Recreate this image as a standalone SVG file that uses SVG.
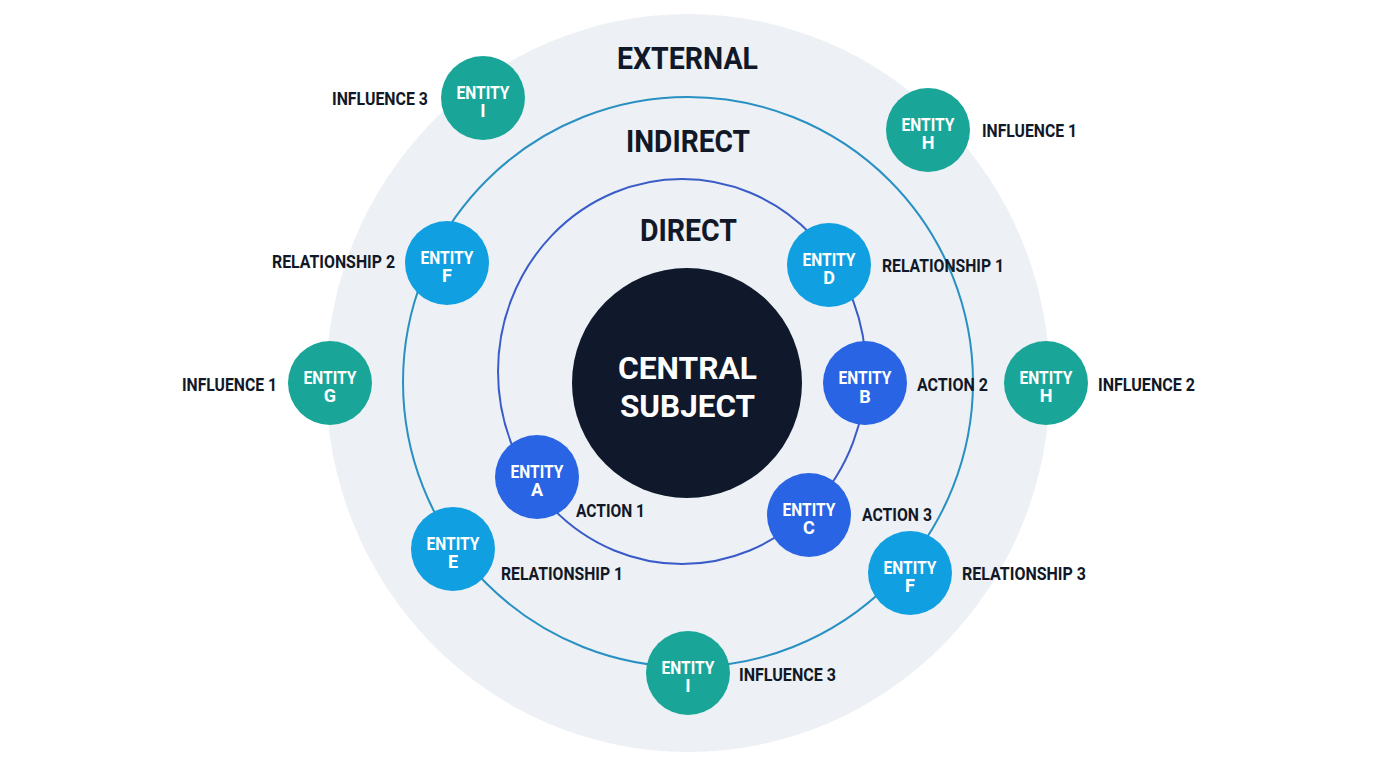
<svg xmlns="http://www.w3.org/2000/svg" width="1376" height="768" viewBox="0 0 1376 768">
  <style>
    text { font-family: Roboto, "Liberation Sans", sans-serif; font-weight: 700; }
    .hdr { font-size: 32px; fill: #111827; text-anchor: middle; }
    .lbl { font-size: 18px; fill: #111827; }
    .nt { font-size: 18px; fill: #ffffff; text-anchor: middle; }
    .ct { font-size: 32px; fill: #ffffff; text-anchor: middle; }
    .teal { fill: #19a698; }
    .sky { fill: #109fe0; }
    .blue { fill: #2864e3; }
    .ring-ind { fill: none; stroke: #2890c2; stroke-width: 2; }
    .ring-dir { fill: none; stroke: #3a5cc9; stroke-width: 2; }
  </style>
  <rect width="1376" height="768" fill="#ffffff"/>
  <ellipse cx="688" cy="383" rx="362" ry="369" fill="#edf0f4"/>

  <g id="connectors">
    <circle class="ring-ind" cx="688" cy="382" r="285"/>
    <ellipse class="ring-dir" cx="682" cy="371.5" rx="184" ry="192.5"/>
  </g>

  <g id="layer-labels">
    <text class="hdr" x="687.5" y="69" textLength="141" lengthAdjust="spacingAndGlyphs">EXTERNAL</text>
    <text class="hdr" x="688" y="152" textLength="124" lengthAdjust="spacingAndGlyphs">INDIRECT</text>
    <text class="hdr" x="688.5" y="241" textLength="97" lengthAdjust="spacingAndGlyphs">DIRECT</text>
  </g>

  <g id="central">
    <circle cx="687" cy="383" r="115" fill="#0f192b"/>
    <text class="ct" x="687.5" y="379" textLength="139" lengthAdjust="spacingAndGlyphs">CENTRAL</text>
    <text class="ct" x="687.5" y="417" textLength="135" lengthAdjust="spacingAndGlyphs">SUBJECT</text>
  </g>

  <g id="entity-i-top">
    <circle class="teal" cx="483" cy="98" r="42"/>
    <text class="nt" x="483" y="98.5" textLength="53" lengthAdjust="spacingAndGlyphs">ENTITY</text>
    <text class="nt" x="483" y="117">I</text>
    <text class="lbl" x="332" y="105" textLength="96" lengthAdjust="spacingAndGlyphs">INFLUENCE 3</text>
  </g>

  <g id="entity-h-top">
    <circle class="teal" cx="928" cy="130" r="42"/>
    <text class="nt" x="928" y="130.5" textLength="53" lengthAdjust="spacingAndGlyphs">ENTITY</text>
    <text class="nt" x="928" y="149">H</text>
    <text class="lbl" x="982" y="137" textLength="95" lengthAdjust="spacingAndGlyphs">INFLUENCE 1</text>
  </g>

  <g id="entity-f-left">
    <circle class="sky" cx="447" cy="263" r="42"/>
    <text class="nt" x="447" y="263.5" textLength="53" lengthAdjust="spacingAndGlyphs">ENTITY</text>
    <text class="nt" x="447" y="282">F</text>
    <text class="lbl" x="272" y="268" textLength="123" lengthAdjust="spacingAndGlyphs">RELATIONSHIP 2</text>
  </g>

  <g id="entity-d">
    <circle class="sky" cx="829" cy="265" r="42"/>
    <text class="nt" x="829" y="265.5" textLength="53" lengthAdjust="spacingAndGlyphs">ENTITY</text>
    <text class="nt" x="829" y="284">D</text>
    <text class="lbl" x="882" y="272" textLength="122" lengthAdjust="spacingAndGlyphs">RELATIONSHIP 1</text>
  </g>

  <g id="entity-g">
    <circle class="teal" cx="330" cy="383" r="42"/>
    <text class="nt" x="330" y="383.5" textLength="53" lengthAdjust="spacingAndGlyphs">ENTITY</text>
    <text class="nt" x="330" y="402">G</text>
    <text class="lbl" x="182" y="391" textLength="95" lengthAdjust="spacingAndGlyphs">INFLUENCE 1</text>
  </g>

  <g id="entity-b">
    <circle class="blue" cx="865" cy="383" r="42"/>
    <text class="nt" x="865" y="384" textLength="53" lengthAdjust="spacingAndGlyphs">ENTITY</text>
    <text class="nt" x="865" y="403">B</text>
    <text class="lbl" x="917" y="391" textLength="71" lengthAdjust="spacingAndGlyphs">ACTION 2</text>
  </g>

  <g id="entity-h-right">
    <circle class="teal" cx="1046" cy="383" r="42"/>
    <text class="nt" x="1046" y="383.5" textLength="53" lengthAdjust="spacingAndGlyphs">ENTITY</text>
    <text class="nt" x="1046" y="402">H</text>
    <text class="lbl" x="1098" y="391" textLength="97" lengthAdjust="spacingAndGlyphs">INFLUENCE 2</text>
  </g>

  <g id="entity-a">
    <circle class="blue" cx="537" cy="477" r="42"/>
    <text class="nt" x="537" y="477.5" textLength="53" lengthAdjust="spacingAndGlyphs">ENTITY</text>
    <text class="nt" x="537" y="496">A</text>
    <text class="lbl" x="576" y="517" textLength="69" lengthAdjust="spacingAndGlyphs">ACTION 1</text>
  </g>

  <g id="entity-c">
    <circle class="blue" cx="809" cy="515" r="42"/>
    <text class="nt" x="809" y="515.5" textLength="53" lengthAdjust="spacingAndGlyphs">ENTITY</text>
    <text class="nt" x="809" y="534">C</text>
    <text class="lbl" x="862" y="521" textLength="70" lengthAdjust="spacingAndGlyphs">ACTION 3</text>
  </g>

  <g id="entity-e">
    <circle class="sky" cx="453" cy="549" r="42"/>
    <text class="nt" x="453" y="549.5" textLength="53" lengthAdjust="spacingAndGlyphs">ENTITY</text>
    <text class="nt" x="453" y="568">E</text>
    <text class="lbl" x="501" y="580" textLength="122" lengthAdjust="spacingAndGlyphs">RELATIONSHIP 1</text>
  </g>

  <g id="entity-f-right">
    <circle class="sky" cx="910" cy="573" r="42"/>
    <text class="nt" x="910" y="573.5" textLength="53" lengthAdjust="spacingAndGlyphs">ENTITY</text>
    <text class="nt" x="910" y="592">F</text>
    <text class="lbl" x="962" y="580" textLength="124" lengthAdjust="spacingAndGlyphs">RELATIONSHIP 3</text>
  </g>

  <g id="entity-i-bottom">
    <circle class="teal" cx="688" cy="673" r="42"/>
    <text class="nt" x="688" y="673.5" textLength="53" lengthAdjust="spacingAndGlyphs">ENTITY</text>
    <text class="nt" x="688" y="692">I</text>
    <text class="lbl" x="739" y="681" textLength="97" lengthAdjust="spacingAndGlyphs">INFLUENCE 3</text>
  </g>
</svg>
